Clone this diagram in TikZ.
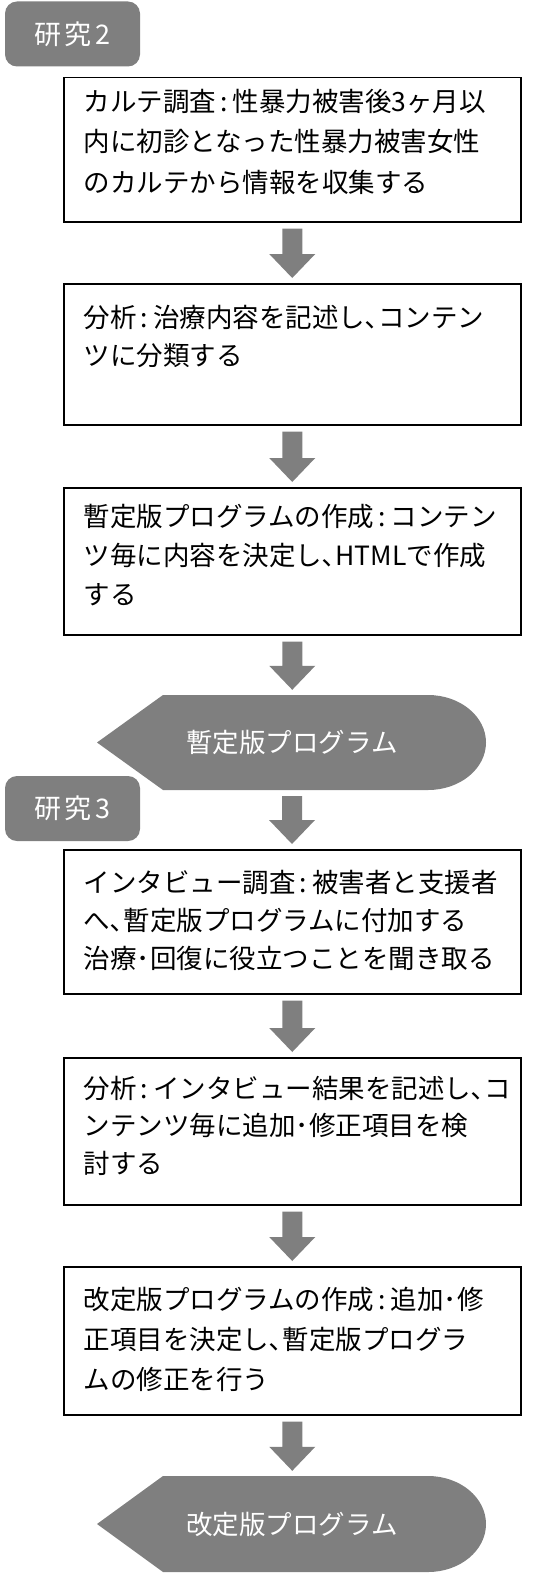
\documentclass[tikz,border=0pt]{standalone}
\usepackage{fontspec}
\setmainfont{Noto Sans CJK JP}
\usetikzlibrary{calc}
\definecolor{blockgray}{RGB}{127,127,127}
\newcommand\cln{\hspace{4pt}:\hspace{5pt}}
\newcommand\steptext[4]{\parbox[c][#1][t]{457pt}{\fontsize{26.5pt}{#3}\selectfont\leftskip=20pt\rightskip=0pt plus 1fil\vspace*{#2}\noindent #4}}
\newcommand\blockarrow[2]{\fill[blockgray] let \p1=($(#1.south)+(0,-6pt)$), \p2=($(#2.north)+(0,5pt)$) in
  (\x1-10pt,\y1) -- (\x1+10pt,\y1) -- (\x1+10pt,\y2+24pt) -- (\x1+23pt,\y2+24pt) -- (\x1,\y2)
  -- (\x1-23pt,\y2+24pt) -- (\x1-10pt,\y2+24pt) -- cycle;}
\tikzset{
  stepbox/.style={draw=black, line width=1.5pt, inner sep=0pt, anchor=north west},
  tabbox/.style={fill=blockgray, rounded corners=12pt, minimum width=135pt, minimum height=65pt,
    inner sep=0pt, text=white, font=\fontsize{27pt}{32pt}\selectfont},
  disptext/.style={inner sep=0pt, minimum height=#1, text=white, font=\fontsize{26.5pt}{32pt}\selectfont},
}
\begin{document}
\begin{tikzpicture}[x=1pt,y=-1pt]
\useasboundingbox (0,0) rectangle (542,1573);
% tabs
\node[tabbox] (s2) at (72.5,34) {研\kern3pt 究\kern4pt 2};
\node[tabbox] (s3) at (72.5,808.5) {研\kern3pt 究\kern4pt 3};
% boxes
\node[stepbox] (b1) at (63,77) {\steptext{144pt}{11pt}{40.5pt}{カルテ調査\cln 性暴力被害後3ヶ月以\\内に初診となった性暴力被害女性\\のカルテから情報を収集する}};
\node[stepbox] (b2) at (63,283) {\steptext{141pt}{21pt}{38pt}{分析\cln 治療内容を記述し､コンテン\\ツに分類する}};
\node[stepbox] (b3) at (63,487) {\steptext{147pt}{16pt}{39pt}{暫定版プログラムの作成\cln コンテン\\ツ毎に内容を決定し､HTMLで作成\\する}};
\node[stepbox] (b4) at (63,849) {\steptext{144pt}{20pt}{38pt}{インタビュー調査\cln 被害者と支援者\\へ､暫定版プログラムに付加する\\治療･回復に役立つことを聞き取る}};
\node[stepbox] (b5) at (63,1057) {\steptext{147pt}{18pt}{37.5pt}{分析\cln インタビュー結果を記述し､コ\\ンテンツ毎に追加･修正項目を検\\討する}};
\node[stepbox] (b6) at (63,1266) {\steptext{148pt}{20pt}{40pt}{改定版プログラムの作成\cln 追加･修\\正項目を決定し､暫定版プログラ\\ムの修正を行う}};
% display shapes
\fill[blockgray] (97,742.5) -- (163,695) -- (428,695) arc[start angle=90, end angle=-90, x radius=58pt, y radius=47.5pt] -- (163,790) -- cycle;
\node[disptext=95pt] (d1) at (292,742.5) {暫定版プログラム};
\fill[blockgray] (97,1524) -- (163,1476) -- (428,1476) arc[start angle=90, end angle=-90, x radius=58pt, y radius=48pt] -- (163,1572) -- cycle;
\node[disptext=96pt] (d2) at (292,1524) {改定版プログラム};
% arrows
\blockarrow{b1}{b2}
\blockarrow{b2}{b3}
\blockarrow{b3}{d1}
\blockarrow{d1}{b4}
\blockarrow{b4}{b5}
\blockarrow{b5}{b6}
\blockarrow{b6}{d2}
\end{tikzpicture}
\end{document}
